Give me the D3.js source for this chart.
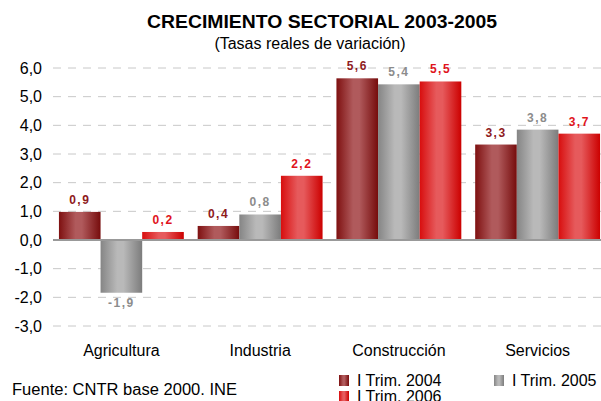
<!DOCTYPE html>
<html>
<head>
<meta charset="utf-8">
<script src="https://cdn.jsdelivr.net/npm/d3@7"></script>
<style>
    body { margin: 0; background: #fff; }
    text { font-family: "Liberation Sans", Arial, sans-serif; }
</style>
</head>
<body>
<script>
const categories = ["Agricultura", "Industria", "Construcción", "Servicios"];
const seriesNames = ["I Trim. 2004", "I Trim. 2005", "I Trim. 2006"];
// bar heights
const values2004 = [0.98, 0.49, 5.64, 3.33];
const values2005 = [-1.84, 0.89, 5.43, 3.85];
const values2006 = [0.28, 2.24, 5.53, 3.71];
// numbers printed on the bars
const labels2004 = [0.9, 0.4, 5.6, 3.3];
const labels2005 = [-1.9, 0.8, 5.4, 3.8];
const labels2006 = [0.2, 2.2, 5.5, 3.7];
const yTicks = [-3, -2, -1, 0, 1, 2, 3, 4, 5, 6];

function main() {

    let svg = d3.select("body").append("svg")
        .attr("width", 601)
        .attr("height", 401);

    // gradients: dark edges, lighter band left of centre
    let gradStops = [
        ["g2004", "#7e1010", "#b05a5c", "#760c0c"],
        ["g2005", "#858585", "#b9b9b9", "#7c7c7c"],
        ["g2006", "#d80e0e", "#e65a5c", "#cc0000"]
    ];
    let defs = svg.append("defs");
    gradStops.forEach(g => {
        let lg = defs.append("linearGradient").attr("id", g[0])
            .attr("x1", "0%").attr("x2", "100%").attr("y1", "0%").attr("y2", "0%");
        lg.append("stop").attr("offset", "0%").attr("stop-color", g[1]);
        lg.append("stop").attr("offset", "40%").attr("stop-color", g[2]);
        lg.append("stop").attr("offset", "55%").attr("stop-color", g[2]);
        lg.append("stop").attr("offset", "100%").attr("stop-color", g[3]);
    });

    let labelColors = ["#8e1a1c", "#8c8c8c", "#e0141c"];

    let x0 = d3.scaleBand().domain(categories).range([52, 607])
        .paddingInner(0.1).paddingOuter(0.05);
    let x1 = d3.scaleBand().domain(seriesNames).range([0, x0.bandwidth()]);
    let y = d3.scaleLinear().domain([-3, 6]).range([326, 68]);

    // dashed gridlines
    svg.append("g")
        .selectAll("line")
        .data(yTicks.filter(d => d !== 0))
        .enter()
        .append("line")
        .attr("x1", 53).attr("x2", 601)
        .attr("y1", d => y(d)).attr("y2", d => y(d))
        .attr("stroke", "#c8c8c8")
        .attr("stroke-width", 1)
        .attr("stroke-dasharray", "8,7");

    // y axis labels
    let yAxis = d3.axisLeft(y).tickValues(yTicks).tickSize(0)
        .tickFormat(d => d3.format(".1f")(d).replace(".", ",").replace("−", "-"));
    svg.append("g")
        .attr("transform", "translate(42,0)")
        .call(yAxis)
        .call(g => g.select(".domain").remove())
        .selectAll("text")
        .attr("x", 0)
        .style("font-family", "Liberation Sans, Arial, sans-serif")
        .style("font-size", "16px")
        .attr("fill", "#000");

    let series = [values2004, values2005, values2006];
    let labels = [labels2004, labels2005, labels2006];
    let rows = [];
    series.forEach((vals, s) => {
        vals.forEach((v, i) => {
            rows.push({cat: categories[i], name: seriesNames[s], s: s, v: v, label: labels[s][i]});
        });
    });

    svg.append("g")
        .selectAll("rect")
        .data(rows)
        .enter()
        .append("rect")
        .attr("x", d => x0(d.cat) + x1(d.name))
        .attr("y", d => y(Math.max(0, d.v)))
        .attr("width", x1.bandwidth())
        .attr("height", d => Math.abs(y(d.v) - y(0)))
        .attr("fill", d => "url(#" + gradStops[d.s][0] + ")");

    // zero line
    svg.append("line")
        .attr("x1", 53).attr("x2", 601)
        .attr("y1", y(0)).attr("y2", y(0))
        .attr("stroke", "#999")
        .attr("stroke-width", 2);

    // value labels
    svg.append("g")
        .selectAll("text")
        .data(rows)
        .enter()
        .append("text")
        .attr("x", d => x0(d.cat) + x1(d.name) + x1.bandwidth() / 2)
        .attr("y", d => d.v >= 0 ? y(d.v) - 8 : y(d.v) + 14)
        .attr("text-anchor", "middle")
        .style("font-size", "12px")
        .style("font-weight", "bold")
        .style("letter-spacing", "1.5px")
        .attr("fill", d => labelColors[d.s])
        .text(d => d3.format(".1f")(d.label).replace(".", ",").replace("−", "-"));

    // category labels
    let xAxis = d3.axisBottom(x0).tickSize(0);
    svg.append("g")
        .attr("transform", "translate(0,342)")
        .call(xAxis)
        .call(g => g.select(".domain").remove())
        .selectAll("text")
        .style("font-family", "Liberation Sans, Arial, sans-serif")
        .style("font-size", "16px")
        .attr("fill", "#000");

    // titles
    svg.append("text")
        .attr("x", 322).attr("y", 28)
        .attr("text-anchor", "middle")
        .attr("textLength", 350)
        .attr("lengthAdjust", "spacingAndGlyphs")
        .style("font-size", "18px")
        .style("font-weight", "bold")
        .text("CRECIMIENTO SECTORIAL 2003-2005");

    svg.append("text")
        .attr("x", 310).attr("y", 49)
        .attr("text-anchor", "middle")
        .style("font-size", "16px")
        .text("(Tasas reales de variación)");

    svg.append("text")
        .attr("x", 12).attr("y", 395)
        .style("font-size", "16px")
        .attr("textLength", 225)
        .attr("lengthAdjust", "spacingAndGlyphs")
        .text("Fuente: CNTR base 2000. INE");

    // legend
    let legendPos = [[339, 375], [494, 375], [339, 391]];
    let legend = svg.append("g")
        .selectAll("g")
        .data(seriesNames)
        .enter()
        .append("g")
        .attr("transform", (d, i) => `translate(${legendPos[i][0]},${legendPos[i][1]})`);
    legend.append("rect")
        .attr("width", 10).attr("height", 11)
        .attr("fill", (d, i) => "url(#" + gradStops[i][0] + ")");
    legend.append("text")
        .attr("x", 18).attr("y", 11)
        .style("font-size", "16px")
        .text(d => d);
}

main()
</script>
</body>
</html>
